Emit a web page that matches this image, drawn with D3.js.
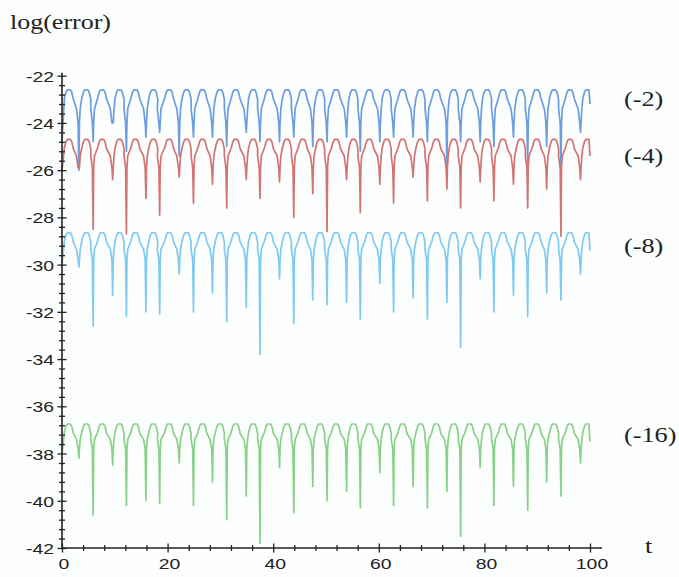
<!DOCTYPE html>
<html>
<head>
<meta charset="utf-8">
<script src="https://cdn.jsdelivr.net/npm/d3@7"></script>
<style>
  html, body { margin: 0; padding: 0; background: #fcfdfd; }
  svg { display: block; }
</style>
</head>
<body>
<svg id="chart" width="679" height="577"></svg>
<script>
// Times of the dips shared by all four traces (interleaved minor/major dips)
const dipT = [3.2, 5.9, 9.6, 12.2, 15.9, 18.5, 22.2, 24.9, 28.5, 31.2, 34.9, 37.5,
  41.2, 43.9, 47.5, 50.2, 53.9, 56.5, 60.2, 62.8, 66.5, 69.2, 72.9, 75.5,
  79.2, 81.8, 85.5, 88.2, 91.8, 94.5, 98.2];
// Times of the hump crests (one before each dip, plus the last one)
const peakT = [1.3, 4.6, 7.6, 10.9, 13.9, 17.3, 20.3, 23.6, 26.6, 29.9, 32.9, 36.2,
  39.2, 42.6, 45.6, 48.9, 51.9, 55.2, 58.2, 61.5, 64.5, 67.9, 70.9, 74.2,
  77.2, 80.5, 83.5, 86.9, 89.9, 93.2, 96.2, 99.5];

// log(error) at each dip, per step-size exponent
const dips_m2 = [-26.0, -24.8, -24.0, -25.2, -24.6, -24.4, -25.4, -24.6, -24.6, -25.0, -24.4, -24.8,
  -24.8, -24.6, -25.0, -24.8, -24.6, -25.2, -24.8, -24.6, -24.6, -24.8, -26.0, -24.8,
  -24.8, -25.0, -24.6, -25.8, -25.0, -25.9, -24.4];
const dips_m4 = [-25.8, -28.5, -26.4, -28.7, -27.2, -27.9, -26.3, -27.4, -26.6, -27.6, -26.4, -27.2,
  -26.5, -28.0, -27.0, -28.6, -26.4, -27.8, -26.6, -27.4, -26.3, -27.3, -26.8, -27.6,
  -26.5, -27.3, -26.6, -27.6, -26.8, -28.8, -26.4];
const dips_m8 = [-30.1, -32.6, -31.3, -32.2, -32.0, -32.1, -30.4, -32.0, -31.2, -32.4, -31.8, -33.8,
  -30.6, -32.5, -31.5, -31.7, -31.6, -32.3, -30.8, -32.0, -31.4, -32.3, -31.6, -33.5,
  -30.6, -32.0, -31.3, -32.2, -31.2, -31.5, -30.4];
const dips_m16 = [-38.2, -40.6, -38.5, -40.2, -40.0, -40.1, -38.4, -40.2, -39.2, -40.8, -39.8, -41.8,
  -38.6, -40.5, -39.4, -40.0, -39.6, -40.3, -38.8, -40.2, -39.4, -40.3, -39.6, -41.5,
  -38.6, -40.2, -39.4, -40.4, -39.2, -39.8, -38.4];

// crest, shoulder and pre-dip levels, plus values at t = 0 and t = 100
const crest    = [-22.6, -24.7, -28.65, -36.75];
const shoulder = [-23.4, -25.4, -29.35, -37.4];
const tail     = [-24.0, -25.9, -29.8, -37.8];
const startV   = [-24.8, -26.0, -30.0, -38.0];
const endV     = [-23.2, -25.4, -29.4, -37.5];

const seriesNames = ["(-2)", "(-4)", "(-8)", "(-16)"];
const seriesColors = ["#6c9de0", "#d27474", "#7ecaf0", "#88d288"];
const seriesDips = [dips_m2, dips_m4, dips_m8, dips_m16];
const labelY = [-23.0, -25.4, -29.2, -37.2];

const yTicks = [-42, -40, -38, -36, -34, -32, -30, -28, -26, -24, -22];
const xTicks = [0, 20, 40, 60, 80, 100];

const svg = d3.select("#chart");
const x = d3.scaleLinear().domain([0, 100]).range([62, 590]);
const y = d3.scaleLinear().domain([-42, -22]).range([548, 75.7]);

// Build each trace as rounded arches separated by narrow dips
function tracePoints(k) {
  const d = seriesDips[k];
  const P = crest[k], S = shoulder[k], T = tail[k];
  const pts = [[0, startV[k]]];
  let prevT = 0;
  for (let i = 0; i < peakT.length; i++) {
    const tp = peakT[i];
    const nextT = i < dipT.length ? dipT[i] : 100;
    if (i > 0) {
      pts.push([prevT + 0.1, T]);
      pts.push([prevT + 0.25, S]);
    }
    pts.push([tp - 0.85, P - 0.35]);
    pts.push([tp - 0.55, P - 0.1]);
    pts.push([tp - 0.3, P]);
    pts.push([tp + 0.3, P]);
    if (i < dipT.length) {
      pts.push([tp + 0.55, P - 0.1]);
      pts.push([tp + 0.85, P - 0.4]);
      pts.push([nextT - 0.45, S]);
      pts.push([nextT - 0.15, T]);
      pts.push([nextT, d[i]]);
    } else {
      pts.push([100, endV[k]]);
    }
    prevT = nextT;
  }
  return pts;
}

const line = d3.line().x(p => x(p[0])).y(p => y(p[1]));

const traces = svg.append("g");
seriesDips.forEach((_, k) => {
  traces.append("path")
    .attr("d", line(tracePoints(k)))
    .attr("fill", "none")
    .attr("stroke", seriesColors[k])
    .attr("stroke-width", 1.7)
    .attr("stroke-linejoin", "round");
});

// Axes: ticks cross the axis line on both sides
const axisColor = "#222";
const yAxis = svg.append("g").attr("transform", `translate(${x(0)},0)`)
  .call(d3.axisLeft(y).tickValues(d3.range(-42, -21.9, 0.4).map(v => +v.toFixed(1)))
    .tickFormat(() => "").tickSizeOuter(0));
yAxis.select(".domain").remove();
yAxis.selectAll(".tick line").attr("x1", -3).attr("x2", 3).attr("stroke", axisColor).attr("stroke-width", 1.3);
yAxis.selectAll(".tick").filter(d => yTicks.some(t => Math.abs(t - d) < 1e-6))
  .select("line").attr("x1", -4.5).attr("x2", 4.5);

const xAxis = svg.append("g").attr("transform", `translate(0,${y(-42)})`)
  .call(d3.axisBottom(x).tickValues(d3.range(0, 100.1, 4)).tickFormat(() => "").tickSizeOuter(0));
xAxis.select(".domain").remove();
xAxis.selectAll(".tick line").attr("y1", -3).attr("y2", 3).attr("stroke", axisColor).attr("stroke-width", 1.3);
xAxis.selectAll(".tick").filter(d => xTicks.includes(d))
  .select("line").attr("y1", -4.5).attr("y2", 4.5);

svg.append("line").attr("x1", x(0)).attr("x2", x(0)).attr("y1", y(-42)).attr("y2", y(-22) - 3)
  .attr("stroke", axisColor).attr("stroke-width", 1.6);
svg.append("line").attr("x1", x(0)).attr("x2", x(100) + 12).attr("y1", y(-42)).attr("y2", y(-42))
  .attr("stroke", axisColor).attr("stroke-width", 1.6);

// Tick labels
const sans = "'Liberation Sans', Arial, sans-serif";
const serif = "'Liberation Serif', 'Times New Roman', serif";
svg.append("g").selectAll("text").data(yTicks).join("text")
  .attr("transform", d => `translate(54,${y(d) + 6}) scale(1.25,1)`)
  .attr("text-anchor", "end")
  .attr("font-family", sans).attr("font-size", 15.5).attr("fill", "#222")
  .text(d => String(d));
svg.append("g").selectAll("text").data(xTicks).join("text")
  .attr("transform", d => `translate(${x(d) + 2},${y(-42) + 21}) scale(1.25,1)`)
  .attr("text-anchor", "middle")
  .attr("font-family", sans).attr("font-size", 15.5).attr("fill", "#222")
  .text(d => String(d));

// Axis titles
svg.append("text").attr("transform", "translate(10,29) scale(1.3,1)")
  .attr("font-family", serif).attr("font-size", 20).attr("fill", "#222").text("log(error)");
svg.append("text").attr("transform", "translate(645,553) scale(1.25,1)")
  .attr("font-family", serif).attr("font-size", 21).attr("fill", "#222").text("t");

// Series labels
svg.append("g").selectAll("text").data(seriesNames).join("text")
  .attr("transform", (d, i) => `translate(624,${y(labelY[i]) + 7}) scale(1.25,1)`)
  .attr("font-family", serif).attr("font-size", 21).attr("fill", "#222")
  .text(d => d);
</script>
</body>
</html>
